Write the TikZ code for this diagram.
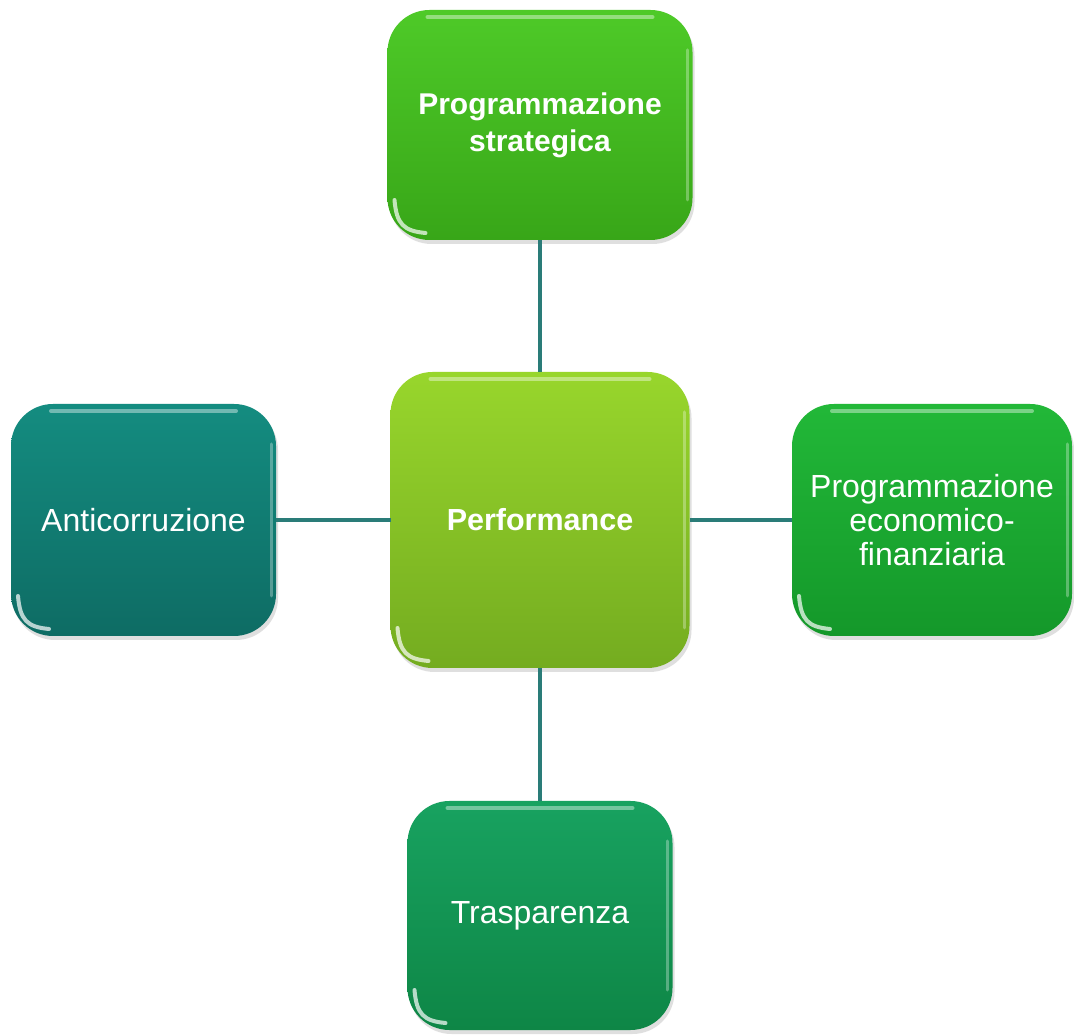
\documentclass[tikz,border=0pt]{standalone}
\usepackage{fontspec}
\setmainfont{Liberation Sans}
\usetikzlibrary{calc,shadows}
\definecolor{linkc}{HTML}{2A7C78}
\tikzset{
  box/.style={rounded corners=42pt, outer sep=0pt, inner sep=4pt, text=white, align=center,
    font=\fontsize{32}{34}\selectfont,
    drop shadow={opacity=0.25, shadow xshift=2pt, shadow yshift=-4pt},
    path picture={
      \draw[white, opacity=0.4, line width=4pt, line cap=round]
        ($(path picture bounding box.north west)+(40,-7)$) -- ($(path picture bounding box.north east)+(-40,-7)$);
      \draw[white, opacity=0.7, line width=4pt, line cap=round]
        ($(path picture bounding box.south west)+(7,40)$) .. controls ($(path picture bounding box.south west)+(9,16)$) and ($(path picture bounding box.south west)+(16,9)$) .. ($(path picture bounding box.south west)+(38,7)$);
      \draw[white, opacity=0.3, line width=3pt, line cap=round]
        ($(path picture bounding box.north east)+(-5,-40)$) -- ($(path picture bounding box.south east)+(-5,40)$);
    }},
  link/.style={draw=linkc, line width=4.5pt}
}
\begin{document}
\begin{tikzpicture}[x=1pt,y=1pt]
\fill[white] (0,0) rectangle (1074,1034);
\useasboundingbox (0,0) rectangle (1074,1034);
\node[box, minimum width=305pt, minimum height=230pt, top color={rgb,255:red,78;green,202;blue,40}, bottom color={rgb,255:red,56;green,166;blue,24}, font=\bfseries\fontsize{30}{37}\selectfont] (ps) at (540,909) {Programmazione\\strategica};
\node[box, minimum width=299pt, minimum height=296pt, top color={rgb,255:red,152;green,214;blue,44}, bottom color={rgb,255:red,116;green,172;blue,32}, font=\bfseries\fontsize{30.5}{34}\selectfont] (perf) at (540,514) {Performance};
\node[box, minimum width=265pt, minimum height=232pt, top color={rgb,255:red,20;green,140;blue,128}, bottom color={rgb,255:red,14;green,108;blue,100}] (anti) at (143.5,514) {Anticorruzione};
\node[box, minimum width=280pt, minimum height=232pt, top color={rgb,255:red,34;green,184;blue,56}, bottom color={rgb,255:red,20;green,152;blue,42}] (pef) at (932,514) {Programmazione\\economico-\\finanziaria};
\node[box, minimum width=265pt, minimum height=229pt, top color={rgb,255:red,24;green,162;blue,96}, bottom color={rgb,255:red,14;green,134;blue,70}] (tras) at (540,118.5) {Trasparenza};
\draw[link] (ps.south) -- (perf.north);
\draw[link] (perf.south) -- (tras.north);
\draw[link] (anti.east) -- (perf.west);
\draw[link] (perf.east) -- (pef.west);
\end{tikzpicture}
\end{document}
